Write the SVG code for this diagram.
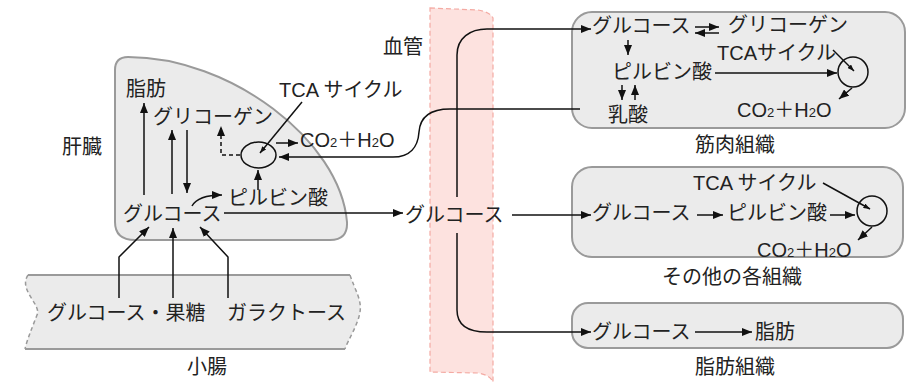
<svg xmlns="http://www.w3.org/2000/svg" width="909" height="384" viewBox="0 0 909 384">
<style>
text{font-family:"Liberation Sans","Noto Sans CJK JP",sans-serif;font-size:20px;fill:#222}
.sub{font-size:13px}
.box{fill:#ebebeb;stroke:#9a9a9a;stroke-width:2}
.ln{fill:none;stroke:#111;stroke-width:1.5}
.dash{stroke-dasharray:4 3}
.circ{fill:none;stroke:#111;stroke-width:1.5}
</style>
<defs>
<marker id="a" viewBox="0 0 10 8" markerWidth="10" markerHeight="8" refX="10" refY="4" orient="auto" markerUnits="userSpaceOnUse"><path d="M0,0 L10,4 L0,8 Z" fill="#111"/></marker>
<marker id="s" viewBox="0 0 8 6" markerWidth="7" markerHeight="5" refX="8" refY="3" orient="auto" markerUnits="userSpaceOnUse"><path d="M0,0 L8,3 L0,6 Z" fill="#111"/></marker>
</defs>

<g id="vessel">
<path d="M430 8 L478 10 Q490 12 493 18 V382 Q490 375 478 373 L430 372 Z" fill="#fde2df" stroke="#f4aaa3" stroke-width="1.2" stroke-dasharray="5 3"/>
<text x="383" y="54">血管</text>
</g>

<g id="liver">
<path class="box" d="M115 70 Q115 57 128 57 C230 57 340 140 347 222 Q348 240 330 240 L135 240 Q115 240 115 222 Z"/>
<text x="62" y="154">肝臓</text>
<text x="126" y="96">脂肪</text>
<text x="153" y="124">グリコーゲン</text>
<text x="279" y="97">TCA サイクル</text>
<ellipse class="circ" cx="258.5" cy="155" rx="17.5" ry="13"/>
<text x="300" y="147">CO<tspan class="sub">2</tspan>＋H<tspan class="sub">2</tspan>O</text>
<text x="228" y="205">ピルビン酸</text>
<text x="123" y="221">グルコース</text>
</g>

<g id="intestine">
<path d="M28 275 H350 C355 290 362 300 360 312 C358 325 348 340 345 349 H25 C27 340 32 328 37 315 C42 305 18 290 28 275 Z" fill="#ebebeb"/>
<path d="M28 275 H350 M25 349 H345" fill="none" stroke="#9a9a9a" stroke-width="2"/>
<path d="M28 275 C18 290 42 305 37 315 C32 328 27 340 25 349 M350 275 C355 290 362 300 360 312 C358 325 348 340 345 349" fill="none" stroke="#9a9a9a" stroke-width="1.5" stroke-dasharray="4 3"/>
<text x="47" y="320">グルコース・果糖</text>
<text x="227" y="320">ガラクトース</text>
<text x="187" y="374">小腸</text>
</g>

<g id="blood-glucose">
<text x="405" y="222">グルコース</text>
</g>

<g id="muscle">
<rect class="box" x="572" y="12" width="333" height="116" rx="20"/>
<text x="592" y="33">グルコース</text>
<text x="728" y="32">グリコーゲン</text>
<text x="717" y="60">TCAサイクル</text>
<text x="612" y="79">ピルビン酸</text>
<circle class="circ" cx="853" cy="72" r="15"/>
<text x="608" y="122">乳酸</text>
<text x="737" y="117">CO<tspan class="sub">2</tspan>＋H<tspan class="sub">2</tspan>O</text>
<text x="695" y="152">筋肉組織</text>
</g>

<g id="other">
<rect class="box" x="572" y="167" width="331" height="90" rx="20"/>
<text x="693" y="190">TCA サイクル</text>
<text x="592" y="220">グルコース</text>
<text x="727" y="220">ピルビン酸</text>
<circle class="circ" cx="872" cy="211" r="15"/>
<text x="757" y="257">CO<tspan class="sub">2</tspan>＋H<tspan class="sub">2</tspan>O</text>
<text x="662" y="284">その他の各組織</text>
</g>

<g id="fat">
<rect class="box" x="572" y="303" width="331" height="45" rx="16"/>
<text x="592" y="339">グルコース</text>
<text x="755" y="339">脂肪</text>
<text x="695" y="374">脂肪組織</text>
</g>

<g id="connectors">
<path class="ln" d="M144 195 V103" marker-end="url(#a)"/>
<path class="ln" d="M172 194 V130" marker-end="url(#a)"/>
<path class="ln" d="M187 130 V193" marker-end="url(#a)"/>
<path class="ln dash" d="M240 155 H221 V126" marker-end="url(#a)"/>
<path class="ln" d="M302 102 L260 153" marker-end="url(#s)"/>
<path class="ln" d="M276 143 H298" marker-end="url(#a)"/>
<path class="ln" d="M258 190 V170" marker-end="url(#a)"/>
<path class="ln" d="M192 206 Q198 195 222 195" marker-end="url(#a)"/>
<path class="ln" d="M580 109 H450 C428 109 420 118 419 132 C418 147 410 157 393 157 H279" marker-end="url(#a)"/>
<path class="ln" d="M224 213 H403" marker-end="url(#a)"/>
<path class="ln" d="M119 298 V257 L149 227" marker-end="url(#a)"/>
<path class="ln" d="M173 298 V228" marker-end="url(#a)"/>
<path class="ln" d="M228 298 V257 L200 227" marker-end="url(#a)"/>
<path class="ln" d="M457 197 V55 C457 38 470 29 487 29 H591" marker-end="url(#a)"/>
<path class="ln" d="M457 233 V310 C457 325 468 332 487 332 H591" marker-end="url(#a)"/>
<path class="ln" d="M512 215 H591" marker-end="url(#a)"/>
<path class="ln" d="M695 27 H719" marker-end="url(#a)"/>
<path class="ln" d="M719 33 H695" marker-end="url(#a)"/>
<path class="ln" d="M628 40 V55" marker-end="url(#a)"/>
<path class="ln" d="M715 73 H837" marker-end="url(#a)"/>
<path class="ln" d="M833 50 L854 71" marker-end="url(#s)"/>
<path class="ln" d="M852 88 L839 99" marker-end="url(#a)"/>
<path class="ln" d="M622 85 V100" marker-end="url(#a)"/>
<path class="ln" d="M635 100 V85" marker-end="url(#a)"/>
<path class="ln" d="M823 183 L870 209" marker-end="url(#s)"/>
<path class="ln" d="M697 215 H723" marker-end="url(#a)"/>
<path class="ln" d="M830 215 H855" marker-end="url(#a)"/>
<path class="ln" d="M872 227 L858 240" marker-end="url(#a)"/>
<path class="ln" d="M695 332 H752" marker-end="url(#a)"/>
</g>
</svg>
